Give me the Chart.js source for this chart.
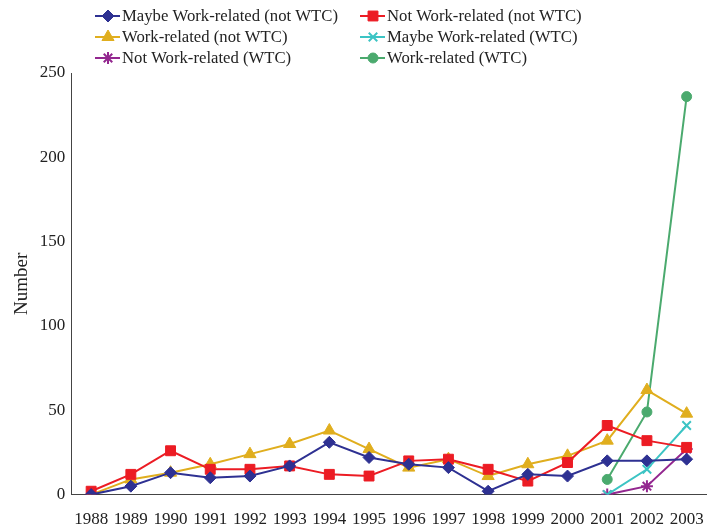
<!DOCTYPE html>
<html lang="en">
<head>
    <meta charset="UTF-8">
    <title>Cases by year</title>
    <script src="https://cdn.jsdelivr.net/npm/chart.js"></script>
    <style>
        html, body { margin: 0; padding: 0; background: #fff; }
        #wrap { width: 719px; height: 529px; }
    </style>
</head>
<body>
    <div id="wrap"><canvas id="chart" width="719" height="529"></canvas></div>

    <script>
        const years = ['1988', '1989', '1990', '1991', '1992', '1993', '1994', '1995',
                       '1996', '1997', '1998', '1999', '2000', '2001', '2002', '2003'];
        const yTicks = [0, 50, 100, 150, 200, 250];

        const maybeNotWtc = [0, 5, 13, 10, 11, 17, 31, 22, 18, 16, 2, 12, 11, 20, 20, 21];
        const notNotWtc   = [2, 12, 26, 15, 15, 17, 12, 11, 20, 21, 15, 8, 19, 41, 32, 28];
        const workNotWtc  = [0, 9, 13, 18, 24, 30, 38, 27, 16, 21, 11, 18, 23, 32, 62, 48];
        const maybeWtc    = [null, null, null, null, null, null, null, null, null, null, null, null, null, 0, 15, 41];
        const notWtc      = [null, null, null, null, null, null, null, null, null, null, null, null, null, 0, 5, 27];
        const workWtc     = [null, null, null, null, null, null, null, null, null, null, null, null, null, 9, 49, 236];

        const font = 'Liberation Serif';

        function series(label, data, color, style, radius) {
            return {
                label: label,
                data: data,
                borderColor: color,
                backgroundColor: color,
                borderWidth: 2,
                pointStyle: style,
                pointRadius: radius,
                pointBorderWidth: (style === 'cross' || style === 'crossRot' || style === 'star') ? 2 : 1,
                tension: 0
            };
        }

        const datasets = [
            series('Maybe Work-related (not WTC)', maybeNotWtc, '#2E3192', 'rectRot', 6),
            series('Not Work-related (not WTC)', notNotWtc, '#EC1C24', 'rect', 7),
            series('Work-related (not WTC)', workNotWtc, '#E0AE1E', 'triangle', 7),
            series('Maybe Work-related (WTC)', maybeWtc, '#3CC4C4', 'crossRot', 6),
            series('Not Work-related (WTC)', notWtc, '#93278F', 'star', 6),
            series('Work-related (WTC)', workWtc, '#4BAA6E', 'circle', 5)
        ];

        // two-column legend at the top, drawn on the canvas
        const gridLegend = {
            id: 'gridLegend',
            afterDraw(chart) {
                const c = chart.ctx;
                const cols = [108, 373];
                const rows = [16, 37, 58];
                chart.data.datasets.forEach((ds, i) => {
                    const x = cols[i % 2];
                    const y = rows[Math.floor(i / 2)];
                    c.save();
                    c.strokeStyle = ds.borderColor;
                    c.lineWidth = 2;
                    c.beginPath();
                    c.moveTo(x - 13, y);
                    c.lineTo(x + 12, y);
                    c.stroke();
                    c.fillStyle = ds.backgroundColor;
                    c.lineWidth = ds.pointBorderWidth;
                    Chart.helpers.drawPoint(c, {
                        pointStyle: ds.pointStyle,
                        radius: ds.pointRadius,
                        borderWidth: ds.pointBorderWidth
                    }, x, y);
                    c.fillStyle = '#222';
                    c.font = '16.7px "' + font + '"';
                    c.textBaseline = 'middle';
                    c.fillText(ds.label, x + 14, y + 1);
                    c.restore();
                });
            }
        };

        new Chart(document.getElementById('chart'), {
            type: 'line',
            data: { labels: years, datasets: datasets },
            plugins: [gridLegend],
            options: {
                responsive: false,
                animation: false,
                spanGaps: false,
                layout: { padding: { top: 73, right: 12, left: 2, bottom: -16 } },
                plugins: {
                    legend: { display: false },
                    tooltip: { enabled: false }
                },
                scales: {
                    x: {
                        offset: true,
                        grid: { display: false, drawTicks: false },
                        border: { display: true, color: '#444', width: 1 },
                        ticks: {
                            color: '#222',
                            padding: 15,
                            maxRotation: 0,
                            autoSkip: false,
                            font: { family: font, size: 17 }
                        }
                    },
                    y: {
                        min: 0,
                        max: 250,
                        afterBuildTicks: (axis) => { axis.ticks = yTicks.map(v => ({ value: v })); },
                        grid: { display: false, drawTicks: false },
                        border: { display: true, color: '#444', width: 1 },
                        title: {
                            display: true,
                            text: 'Number',
                            color: '#222',
                            padding: { top: 9, bottom: 0 },
                            font: { family: font, size: 19 }
                        },
                        ticks: {
                            color: '#222',
                            padding: 6,
                            font: { family: font, size: 17 }
                        }
                    }
                }
            }
        });
    </script>
</body>
</html>
